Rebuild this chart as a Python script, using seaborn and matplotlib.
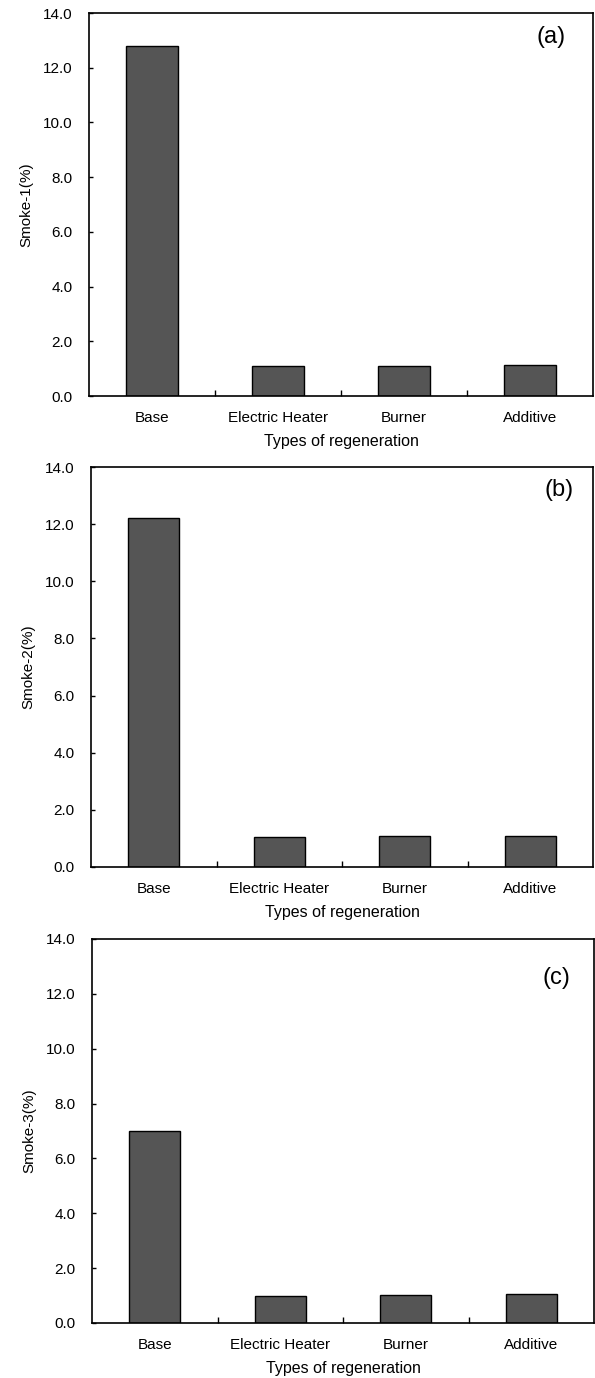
import matplotlib
matplotlib.use("Agg")
import matplotlib.pyplot as plt
import seaborn as sns
import pandas as pd

categories = ["Base", "Electric Heater", "Burner", "Additive"]
smoke1 = [12.8, 1.08, 1.10, 1.13]
smoke2 = [12.2, 1.05, 1.07, 1.10]
smoke3 = [7.0, 1.00, 1.03, 1.07]
ylabels = ["Smoke-1(%)", "Smoke-2(%)", "Smoke-3(%)"]
panel_labels = ["(a)", "(b)", "(c)"]
yticks = [0, 2, 4, 6, 8, 10, 12, 14]
xlabel = "Types of regeneration"

sns.set_style("ticks")
plt.rcParams["font.family"] = ["Liberation Sans", "DejaVu Sans"]
plt.rcParams["text.color"] = "black"
plt.rcParams["axes.labelcolor"] = "black"
plt.rcParams["xtick.color"] = "black"
plt.rcParams["ytick.color"] = "black"

W, H = 595, 1378
fig = plt.figure(figsize=(W / 100, H / 100), dpi=100)

# axes boxes in pixels: left, right, top, bottom
boxes = [(89, 593, 13, 396), (91, 593, 467, 867), (92, 594, 939, 1323)]
label_pos = [(0.917, 0.937), (0.932, 0.942), (0.925, 0.898)]
series = [smoke1, smoke2, smoke3]

for i, (vals, box) in enumerate(zip(series, boxes)):
    l, r, t, b = box
    ax = fig.add_axes([l / W, 1 - b / H, (r - l) / W, (b - t) / H])
    df = pd.DataFrame({"type": categories, "value": vals})
    sns.barplot(data=df, x="type", y="value", ax=ax, color="#555555",
                edgecolor="black", linewidth=1.0, width=0.41, saturation=1)
    ax.set_xlim(-0.5, 3.5)
    ax.set_ylim(0, 14)
    ax.set_yticks(yticks)
    ax.set_yticklabels([f"{v:.1f}" for v in yticks])
    ax.tick_params(axis="y", direction="in", length=3, width=1, pad=12,
                   labelsize=11, color="black", labelcolor="black")
    ax.tick_params(axis="x", which="major", length=0, pad=11, labelsize=11,
                   labelcolor="black")
    ax.set_xticks([0.5, 1.5, 2.5], minor=True)
    ax.tick_params(axis="x", which="minor", direction="in", length=4, width=1,
                   color="black")
    for s in ax.spines.values():
        s.set_visible(True)
        s.set_linewidth(1.2)
        s.set_color("black")
    ax.set_xlabel(xlabel, fontsize=11.5, labelpad=6, color="black")
    ax.set_ylabel(ylabels[i], fontsize=11, color="black")
    ax.yaxis.set_label_coords(-0.11, 0.5)
    ax.text(label_pos[i][0], label_pos[i][1], panel_labels[i],
            transform=ax.transAxes, ha="center", va="center", fontsize=17,
            color="black")

fig.savefig("out.png", dpi=100)
